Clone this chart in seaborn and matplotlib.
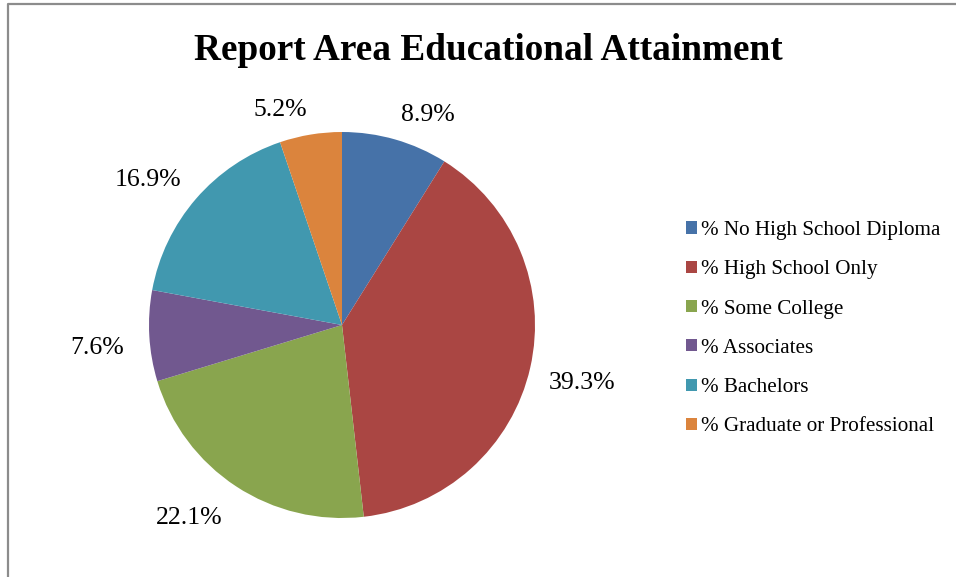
import numpy as np
import matplotlib
matplotlib.use("Agg")
import matplotlib.pyplot as plt
from matplotlib.lines import Line2D
import seaborn as sns

# Educational attainment shares (percent)
categories = [
    "% No High School Diploma",
    "% High School Only",
    "% Some College",
    "% Associates",
    "% Bachelors",
    "% Graduate or Professional",
]
shares = [8.9, 39.3, 22.1, 7.6, 16.9, 5.2]
slice_colors = ["#4672A8", "#AA4643", "#89A54E", "#71588F", "#4198AF", "#DB843D"]
title_text = "Report Area Educational Attainment"

sns.set_theme(style="white")
plt.rcParams["font.family"] = ["Liberation Serif", "DejaVu Serif"]
plt.rcParams["text.color"] = "black"

W, H, DPI = 956, 577, 100
fig = plt.figure(figsize=(W / DPI, H / DPI), dpi=DPI)
fig.patch.set_facecolor("white")

# pie axes: centre (342, 325) px, radius 193 px
cx, cy, r = 342, 325, 193
ax = fig.add_axes([(cx - r) / W, (H - cy - r) / H, 2 * r / W, 2 * r / H])

palette = sns.color_palette(slice_colors)
wedges, _ = ax.pie(shares, colors=palette, startangle=90, counterclock=False,
                   radius=1.0, wedgeprops=dict(linewidth=0))
ax.set_xlim(-1, 1)
ax.set_ylim(-1, 1)
ax.set_aspect("equal")
ax.axis("off")

# percentage labels just outside each wedge
for w, v in zip(wedges, shares):
    ang = np.deg2rad((w.theta1 + w.theta2) / 2)
    x, y = 1.1 * np.cos(ang), 1.1 * np.sin(ang)
    if x < -0.5 and y < 0:
        x, y = 1.13 * np.cos(ang), 1.13 * np.sin(ang)
    ha = "left" if x > 0 else "right"
    va = "baseline" if y > 0 else "top"
    ax.text(x, y, f"{v:.1f}%", ha=ha, va=va, fontsize=18.5, color="black",
            clip_on=False)

fig.text(488 / W, 1 - 51 / H, title_text, ha="center", va="center",
         fontsize=26.8, fontweight="bold", color="black")

leg = fig.legend(wedges, categories, loc="upper left",
                 bbox_to_anchor=(686 / W, 1 - 221 / H), frameon=False,
                 fontsize=15.2, handlelength=0.5, handleheight=0.5,
                 handletextpad=0.22, labelspacing=0.96, borderpad=0,
                 borderaxespad=0, labelcolor="black")

# outer chart frame (top and left edges visible)
fig.add_artist(Line2D([8 / W, 8 / W, 1.0], [0.0, 1 - 4 / H, 1 - 4 / H],
                      transform=fig.transFigure, color="#8C8C8C", lw=1.6))

fig.savefig("out.png", dpi=DPI, facecolor="white")
